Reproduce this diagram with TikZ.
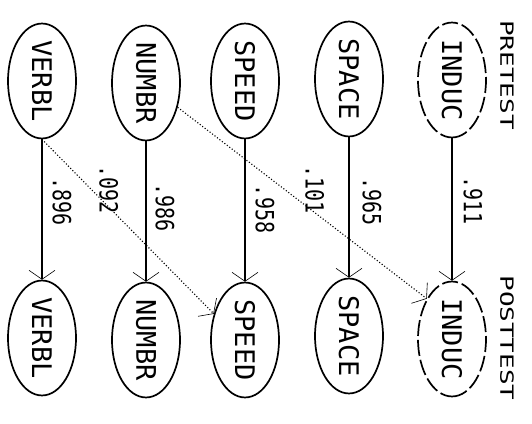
\documentclass[tikz,border=0pt]{standalone}
\usepackage{fontspec}
\setmonofont{DejaVu Sans Mono}
\usetikzlibrary{shapes.geometric,arrows.meta}
\tikzset{
  var/.style={ellipse, draw, line width=1.7pt, rotate=-90, minimum width=108pt, minimum height=68pt, inner sep=0pt,
    font=\ttfamily\fontsize{27}{27}\selectfont},
  dvar/.style={var, dashed, dash pattern=on 16pt off 4pt},
  path/.style={line width=1.2pt, -{Straight Barb[length=9pt,width=26pt,line width=0.6pt]}},
  xpath/.style={line width=1.1pt, dotted, -{Straight Barb[length=9pt,width=26pt,line width=0.6pt]}},
  coef/.style={rotate=-90, inner sep=0pt, font=\ttfamily\fontsize{20}{20}\selectfont},
  ttl/.style={rotate=-90, inner sep=0pt, font=\ttfamily\fontsize{26}{26}\selectfont}
}
\newcommand{\vstr}[2]{\scalebox{1}[#1]{#2}}
\begin{document}
\begin{tikzpicture}[x=1pt,y=-1pt]
\useasboundingbox (0,0) rectangle (532,423);
% pretest
\node[var] (vt) at (42,81) {VERBL};
\node[var] (nt) at (146,83) {NUMBR};
\node[var] (st) at (245,81) {SPEED};
\node[var] (at) at (349,79) {SPACE};
\node[dvar] (it) at (452,80) {INDUC};
% posttest
\node[var] (vb) at (42,338) {VERBL};
\node[var] (nb) at (146,340) {NUMBR};
\node[var] (sb) at (245,340) {SPEED};
\node[var] (ab) at (349,336) {SPACE};
\node[dvar] (ib) at (452,339) {INDUC};
% titles
\node[ttl] (pre) at (507,75) {\vstr{0.7}{PRETEST}};
\node[ttl] (post) at (507,338) {\vstr{0.7}{POSTTEST}};
% paths (yshift acts sideways because the labels are turned)
\draw[path] (vt) -- node[coef, pos=0.44, yshift=20pt] (c1) {\vstr{1.25}{.896}} (vb);
\draw[path] (nt) -- node[coef, pos=0.47, yshift=19pt] (c2) {\vstr{1.25}{.986}} (nb);
\draw[path] (st) -- node[coef, pos=0.49, yshift=20pt] (c3) {\vstr{1.25}{.958}} (sb);
\draw[path] (at) -- node[coef, pos=0.46, yshift=23pt] (c4) {\vstr{1.25}{.965}} (ab);
\draw[path] (it) -- node[coef, pos=0.44, yshift=21pt] (c5) {\vstr{1.25}{.911}} (ib);
\draw[xpath] (vt.east) -- node[coef, pos=0.29, yshift=17pt] (c6) {\vstr{1.25}{.092}} (sb.230);
\draw[xpath] (nt) -- node[coef, pos=0.43, yshift=30pt] (c7) {\vstr{1.25}{.101}} (ib.212);
\end{tikzpicture}
\end{document}
